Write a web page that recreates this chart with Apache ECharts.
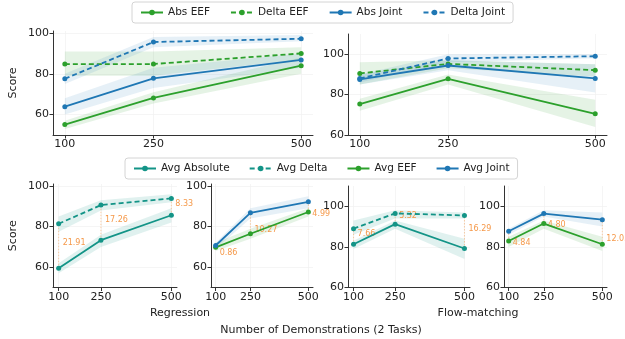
<!DOCTYPE html>
<html>
<head>
<meta charset="utf-8">
<script src="https://cdn.jsdelivr.net/npm/echarts@6/dist/echarts.min.js"></script>
<style>
  html, body { margin: 0; padding: 0; background: #fff; }
  #chart { width: 625px; height: 339px; }
</style>
</head>
<body>
<div id="chart"></div>
<script>
var demos = [100, 250, 500];
var xTicks = [100, 250, 500];
var yTicks = [60, 80, 100];

// top left: Regression
var regAbsEef = [55.1, 68.2, 84.0];
var regAbsEefLo = [53.0, 65.5, 80.0];
var regAbsEefHi = [57.0, 71.0, 88.0];
var regDeltaEef = [84.8, 84.8, 90.0];
var regDeltaEefLo = [79.0, 79.0, 87.0];
var regDeltaEefHi = [91.0, 91.0, 93.0];
var regAbsJoint = [63.9, 77.8, 86.8];
var regAbsJointLo = [60.0, 73.0, 83.0];
var regAbsJointHi = [68.0, 83.0, 90.0];
var regDeltaJoint = [77.6, 95.6, 97.2];
var regDeltaJointLo = [75.0, 93.0, 96.0];
var regDeltaJointHi = [80.0, 98.0, 99.0];

// top right: Flow-matching
var fmAbsEef = [75.3, 87.8, 70.5];
var fmAbsEefLo = [72.0, 85.0, 64.0];
var fmAbsEefHi = [78.0, 90.0, 77.5];
var fmDeltaEef = [90.5, 95.2, 92.1];
var fmDeltaEefLo = [85.0, 93.0, 89.0];
var fmDeltaEefHi = [96.0, 97.0, 95.0];
var fmAbsJoint = [87.5, 94.4, 88.0];
var fmAbsJointLo = [85.0, 92.0, 81.0];
var fmAbsJointHi = [90.0, 97.0, 95.0];
var fmDeltaJoint = [88.0, 97.9, 99.0];
var fmDeltaJointLo = [86.0, 96.0, 98.0];
var fmDeltaJointHi = [90.0, 100.0, 100.0];

// bottom: averages
var regAvgAbs = [59.5, 73.3, 85.6];
var regAvgAbsLo = [57.0, 70.0, 82.0];
var regAvgAbsHi = [62.0, 76.0, 89.0];
var regAvgDelta = [81.4, 90.6, 93.9];
var regAvgDeltaLo = [77.5, 88.0, 92.0];
var regAvgDeltaHi = [85.0, 93.0, 96.0];
var regAbsDeltaGap = [21.91, 17.26, 8.33];

var regAvgEef = [69.8, 76.5, 87.2];
var regAvgEefLo = [68.0, 74.0, 85.0];
var regAvgEefHi = [72.0, 79.0, 89.0];
var regAvgJoint = [70.7, 86.8, 92.2];
var regAvgJointLo = [69.0, 84.0, 89.0];
var regAvgJointHi = [72.0, 89.0, 95.0];
var regEefJointGap = [0.86, 10.27, 4.99];

var fmAvgAbs = [81.3, 91.2, 79.2];
var fmAvgAbsLo = [79.0, 89.0, 74.0];
var fmAvgAbsHi = [83.0, 93.0, 84.0];
var fmAvgDelta = [89.0, 96.5, 95.5];
var fmAvgDeltaLo = [86.0, 94.0, 94.0];
var fmAvgDeltaHi = [93.0, 98.0, 97.0];
var fmAbsDeltaGap = [7.66, 5.32, 16.29];

var fmAvgEef = [82.9, 91.5, 81.3];
var fmAvgEefLo = [80.0, 89.0, 78.0];
var fmAvgEefHi = [85.0, 93.0, 85.0];
var fmAvgJoint = [87.7, 96.4, 93.4];
var fmAvgJointLo = [86.0, 95.0, 90.0];
var fmAvgJointHi = [89.0, 98.0, 97.0];
var fmEefJointGap = [4.84, 4.80, 12.05];

var GREEN = '#2ca02c';
var BLUE = '#1f77b4';
var TEAL = '#139487';
var ORANGE = '#f5994a';
var FONT = 'DejaVu Sans';

var grids = [
    { left: 53, top: 31, width: 260, height: 104 },
    { left: 348, top: 34, width: 259, height: 101 },
    { left: 53, top: 184, width: 124, height: 103.5 },
    { left: 211, top: 184, width: 102, height: 103.5 },
    { left: 348, top: 186, width: 122, height: 101.5 },
    { left: 504, top: 186, width: 103, height: 101.5 }
];
var yRanges = [[50, 101], [60, 110], [50, 101], [50, 101], [60, 110], [60, 110]];

function makeXAxis(i) {
    return {
        type: 'value', gridIndex: i, min: 80, max: 520,
        axisLine: { lineStyle: { color: '#333', width: 1 } },
        axisTick: { length: 3.5, customValues: xTicks, lineStyle: { color: '#333' } },
        axisLabel: { customValues: xTicks, color: '#222', fontSize: 11, fontFamily: FONT, margin: 4 },
        splitLine: { show: true, lineStyle: { color: '#f2f2f2', width: 0.8 } }
    };
}

function makeYAxis(i) {
    var axis = {
        type: 'value', gridIndex: i, min: yRanges[i][0], max: yRanges[i][1],
        axisLine: { show: true, lineStyle: { color: '#333', width: 1 } },
        axisTick: { show: true, length: 3.5, customValues: yTicks, lineStyle: { color: '#333' } },
        axisLabel: { customValues: yTicks, color: '#222', fontSize: 11, fontFamily: FONT, margin: 4 },
        splitLine: { show: true, lineStyle: { color: '#f2f2f2', width: 0.8 } }
    };
    if (i === 0 || i === 2) {
        axis.name = 'Score';
        axis.nameLocation = 'middle';
        axis.nameGap = 34;
        axis.nameTextStyle = { color: '#222', fontSize: 11, fontFamily: FONT };
    }
    return axis;
}

function lineSeries(gi, name, values, color, dashed) {
    return {
        type: 'line', name: name, xAxisIndex: gi, yAxisIndex: gi, z: 3,
        data: demos.map(function (x, k) { return [x, values[k]]; }),
        symbol: 'circle', symbolSize: 5,
        itemStyle: { color: color },
        lineStyle: { color: color, width: 1.8, type: dashed ? [5, 3] : 'solid' },
        emphasis: { disabled: true }
    };
}

function bandSeries(gi, lo, hi, color) {
    return {
        type: 'custom', xAxisIndex: gi, yAxisIndex: gi, silent: true, z: 1,
        data: [[demos[0], lo[0]]],
        renderItem: function (params, api) {
            var upper = demos.map(function (x, k) { return api.coord([x, hi[k]]); });
            var lower = demos.map(function (x, k) { return api.coord([x, lo[k]]); }).reverse();
            return { type: 'polygon', shape: { points: upper.concat(lower) }, style: { fill: color } };
        }
    };
}

function gapSeries(gi, lower, upper, gaps, dy) {
    return {
        type: 'custom', xAxisIndex: gi, yAxisIndex: gi, silent: true, z: 2,
        data: demos.map(function (x, k) { return [x, lower[k], upper[k]]; }),
        renderItem: function (params, api) {
            var k = params.dataIndex;
            var p1 = api.coord([api.value(0), api.value(1)]);
            var p2 = api.coord([api.value(0), api.value(2)]);
            return {
                type: 'group',
                children: [
                    { type: 'line', shape: { x1: p1[0], y1: p1[1], x2: p2[0], y2: p2[1] },
                      style: { stroke: ORANGE, lineWidth: 0.8, lineDash: [1.5, 1.5], opacity: 0.6 } },
                    { type: 'text', x: p1[0] + 4, y: (p1[1] + p2[1]) / 2 + dy,
                      style: { text: gaps[k].toFixed(2), fill: ORANGE, fontSize: 8, fontFamily: FONT,
                               verticalAlign: 'middle', align: 'left' } }
                ]
            };
        }
    };
}

var greenBand = 'rgba(44,160,44,0.12)';
var blueBand = 'rgba(31,119,180,0.11)';
var tealBand = 'rgba(19,148,135,0.13)';

var series = [
    bandSeries(0, regAbsEefLo, regAbsEefHi, greenBand),
    bandSeries(0, regDeltaEefLo, regDeltaEefHi, greenBand),
    bandSeries(0, regAbsJointLo, regAbsJointHi, blueBand),
    bandSeries(0, regDeltaJointLo, regDeltaJointHi, blueBand),
    lineSeries(0, 'Abs EEF', regAbsEef, GREEN, false),
    lineSeries(0, 'Delta EEF', regDeltaEef, GREEN, true),
    lineSeries(0, 'Abs Joint', regAbsJoint, BLUE, false),
    lineSeries(0, 'Delta Joint', regDeltaJoint, BLUE, true),

    bandSeries(1, fmAbsEefLo, fmAbsEefHi, greenBand),
    bandSeries(1, fmDeltaEefLo, fmDeltaEefHi, greenBand),
    bandSeries(1, fmAbsJointLo, fmAbsJointHi, blueBand),
    bandSeries(1, fmDeltaJointLo, fmDeltaJointHi, blueBand),
    lineSeries(1, 'Abs EEF', fmAbsEef, GREEN, false),
    lineSeries(1, 'Delta EEF', fmDeltaEef, GREEN, true),
    lineSeries(1, 'Abs Joint', fmAbsJoint, BLUE, false),
    lineSeries(1, 'Delta Joint', fmDeltaJoint, BLUE, true),

    bandSeries(2, regAvgAbsLo, regAvgAbsHi, tealBand),
    bandSeries(2, regAvgDeltaLo, regAvgDeltaHi, tealBand),
    gapSeries(2, regAvgAbs, regAvgDelta, regAbsDeltaGap, -3),
    lineSeries(2, 'Avg Absolute', regAvgAbs, TEAL, false),
    lineSeries(2, 'Avg Delta', regAvgDelta, TEAL, true),

    bandSeries(3, regAvgEefLo, regAvgEefHi, greenBand),
    bandSeries(3, regAvgJointLo, regAvgJointHi, blueBand),
    gapSeries(3, regAvgEef, regAvgJoint, regEefJointGap, 6.5),
    lineSeries(3, 'Avg EEF', regAvgEef, GREEN, false),
    lineSeries(3, 'Avg Joint', regAvgJoint, BLUE, false),

    bandSeries(4, fmAvgAbsLo, fmAvgAbsHi, tealBand),
    bandSeries(4, fmAvgDeltaLo, fmAvgDeltaHi, tealBand),
    gapSeries(4, fmAvgAbs, fmAvgDelta, fmAbsDeltaGap, -3),
    lineSeries(4, 'Avg Absolute', fmAvgAbs, TEAL, false),
    lineSeries(4, 'Avg Delta', fmAvgDelta, TEAL, true),

    bandSeries(5, fmAvgEefLo, fmAvgEefHi, greenBand),
    bandSeries(5, fmAvgJointLo, fmAvgJointHi, blueBand),
    gapSeries(5, fmAvgEef, fmAvgJoint, fmEefJointGap, 6.5),
    lineSeries(5, 'Avg EEF', fmAvgEef, GREEN, false),
    lineSeries(5, 'Avg Joint', fmAvgJoint, BLUE, false)
];

function makeLegend(names, top, left, gap) {
    return {
        data: names, top: top, left: left,
        itemWidth: 22, itemHeight: 7, itemGap: gap,
        padding: [5, 8], borderColor: '#d4d4d4', borderWidth: 1, borderRadius: 3,
        backgroundColor: '#fff',
        textStyle: { color: '#222', fontSize: 10.5, fontFamily: FONT },
        selectedMode: false
    };
}

var chart = echarts.init(document.getElementById('chart'), null, { renderer: 'canvas' });
chart.setOption({
    animation: false,
    grid: grids,
    xAxis: grids.map(function (g, i) { return makeXAxis(i); }),
    yAxis: grids.map(function (g, i) { return makeYAxis(i); }),
    legend: [
        makeLegend(['Abs EEF', 'Delta EEF', 'Abs Joint', 'Delta Joint'], 2, 132, 20),
        makeLegend(['Avg Absolute', 'Avg Delta', 'Avg EEF', 'Avg Joint'], 158, 125, 19)
    ],
    graphic: [
        { type: 'text', x: 180, y: 313, style: { text: 'Regression', fill: '#222', fontSize: 11, fontFamily: FONT, align: 'center', verticalAlign: 'middle' } },
        { type: 'text', x: 478, y: 313, style: { text: 'Flow-matching', fill: '#222', fontSize: 11, fontFamily: FONT, align: 'center', verticalAlign: 'middle' } },
        { type: 'text', x: 321, y: 330, style: { text: 'Number of Demonstrations (2 Tasks)', fill: '#222', fontSize: 11, fontFamily: FONT, align: 'center', verticalAlign: 'middle' } }
    ],
    series: series
});
</script>
</body>
</html>
